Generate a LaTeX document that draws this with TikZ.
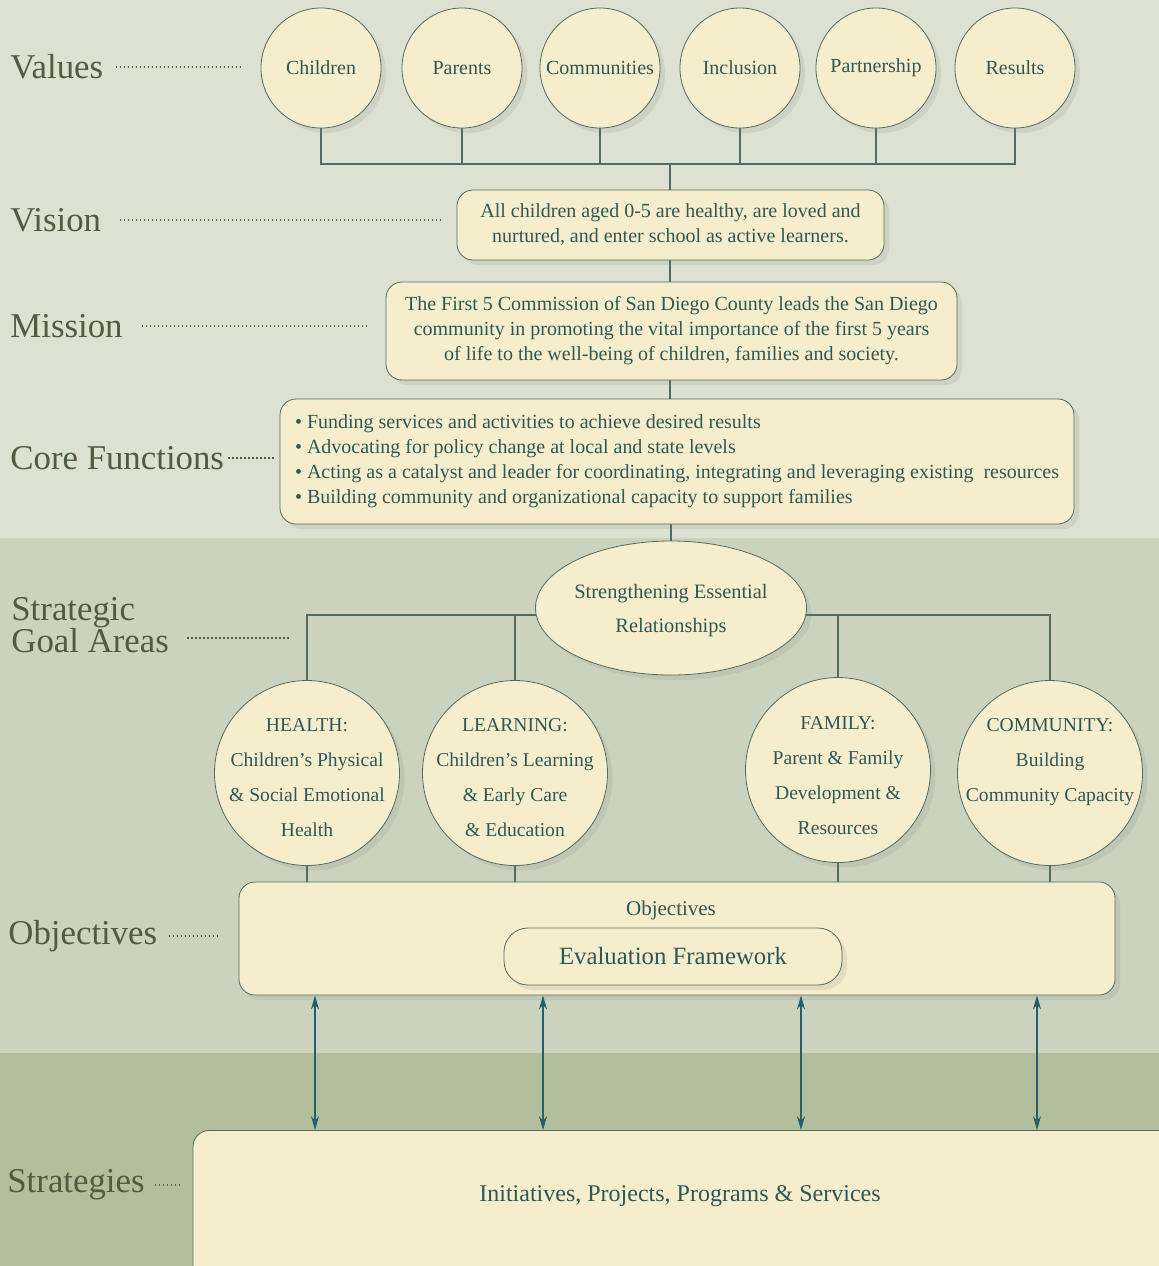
\documentclass[tikz,border=0pt]{standalone}
\usepackage{fontspec}
\setmainfont{Liberation Serif}
\usetikzlibrary{positioning,shapes.geometric,shadows,arrows.meta}

\definecolor{bgtop}{HTML}{DCE1D2}
\definecolor{bgmid}{HTML}{CBD3BE}
\definecolor{bgbot}{HTML}{B3BF9C}
\definecolor{cream}{HTML}{F6EDCD}
\definecolor{rim}{HTML}{4F6B66}
\definecolor{ink}{HTML}{2D5856}
\definecolor{olivetext}{HTML}{4E5C40}
\definecolor{arrowc}{HTML}{24606B}

\pgfdeclarelayer{bands}
\pgfdeclarelayer{wires}
\pgfsetlayers{bands,wires,main}

\tikzset{
  soft/.style={drop shadow={opacity=0.15,shadow xshift=2.5pt,shadow yshift=-2.5pt}},
  value/.style={circle,draw=rim,fill=cream,soft,minimum size=60pt,inner sep=1pt,
    font=\fontsize{10}{12}\selectfont},
  box/.style={rounded corners=8pt,draw=rim,fill=cream,soft,align=center,
    font=\fontsize{10}{12.5}\selectfont},
  goal/.style={circle,draw=rim,fill=cream,soft,minimum size=92.5pt,inner sep=0pt},
  goaltext/.style={align=center,text=ink,font=\fontsize{9.8}{17.5}\selectfont},
  heading/.style={anchor=west,inner sep=0pt,text=olivetext,font=\fontsize{17.4}{20}\selectfont},
  leader/.style={draw=olivetext,line width=0.7pt,dash pattern=on 0.7pt off 1.3pt},
  wire/.style={draw=rim,line width=0.6pt},
  twoway/.style={draw=arrowc,line width=0.6pt,
    {Stealth[length=7pt,width=4pt]}-{Stealth[length=7pt,width=4pt]}}
}

\begin{document}
\begin{tikzpicture}[x=0.5pt,y=-0.5pt,every node/.style={text=ink}]
  \useasboundingbox (0,0) rectangle (1159,1266);
  \clip (0,0) rectangle (1159,1266);

  \begin{pgfonlayer}{bands}
    \fill[bgtop] (0,0) rectangle (1159,538);
    \fill[bgmid] (0,538) rectangle (1159,1053);
    \fill[bgbot] (0,1053) rectangle (1159,1266);
  \end{pgfonlayer}

  % values
  \node[value] (children)    at (321,68)  {Children};
  \node[value] (parents)     at (462,68)  {Parents};
  \node[value] (communities) at (600,68)  {Communities};
  \node[value] (inclusion)   at (740,68)  {Inclusion};
  \node[value] (partnership) at (876,68)  {Partnership};
  \node[value] (results)     at (1015,68) {Results};

  \node[box,minimum width=213.5pt,minimum height=35pt] (vision) at (670.5,225)
    {All children aged 0-5 are healthy, are loved and\\
     nurtured, and enter school as active learners.};
  \node[box,minimum width=285.5pt,minimum height=49pt] (mission) at (671.5,331)
    {The First 5 Commission of San Diego County leads the San Diego\\
     community in promoting the vital importance of the first 5 years\\
     of life to the well-being of children, families and society.};
  \node[box,align=left,minimum width=397pt,minimum height=62.5pt] (core) at (677,461.5)
    {\textbullet\ Funding services and activities to achieve desired results\\
     \textbullet\ Advocating for policy change at local and state levels\\
     \textbullet\ Acting as a catalyst and leader for coordinating, integrating and leveraging existing\ \ resources\\
     \textbullet\ Building community and organizational capacity to support families};

  % goal areas
  \node[ellipse,draw=rim,fill=cream,soft,minimum width=135.5pt,minimum height=67pt,
    label={[goaltext,yshift=-1.5pt,font=\fontsize{10.2}{17}\selectfont]center:{Strengthening Essential\\Relationships}}]
    (rel) at (671,608) {};
  \node[goal,label={[goaltext,yshift=-2.25pt]center:{HEALTH:\\Children's Physical\\\& Social Emotional\\Health}}]
    (health) at (307,773) {};
  \node[goal,label={[goaltext,yshift=-2.25pt]center:{LEARNING:\\Children's Learning\\\& Early Care\\\& Education}}]
    (learning) at (515,773) {};
  \node[goal,label={[goaltext,yshift=-3pt]center:{FAMILY:\\Parent \& Family\\Development \&\\Resources}}]
    (family) at (838,770) {};
  \node[goal,label={[goaltext,yshift=5.5pt]center:{COMMUNITY:\\Building\\Community Capacity}}]
    (community) at (1050,773) {};

  \node[box,minimum width=438pt,minimum height=56.5pt] (obj) at (677,938.5) {};
  \node[font=\fontsize{10.5}{12}\selectfont] (objtitle) at (671,910) {Objectives};
  \node[box,rounded corners=12pt,minimum width=169pt,minimum height=28.5pt,
    font=\fontsize{12.4}{14}\selectfont] (evalfw) at (673,956.5) {Evaluation Framework};

  \node[box,minimum width=491pt,minimum height=79.5pt] (strat) at (684,1210) {};
  \node[font=\fontsize{12}{14}\selectfont] (strattxt) at (680,1196)
    {Initiatives, Projects, Programs \& Services};

  % row headings
  \node[heading] (lvalues)  at (10,67)   {Values};
  \node[heading] (lvision)  at (10,220)  {Vision};
  \node[heading] (lmission) at (10,326)  {Mission};
  \node[heading] (lcore)    at (10,458)  {Core Functions};
  \node[heading,align=left,font=\fontsize{17.4}{16}\selectfont] (lgoal) at (11,625) {Strategic\\Goal Areas};
  \node[heading] (lobj)     at (8,936)   {Objectives};
  \node[heading] (lstrat)   at (7,1185)  {Strategies};
  \coordinate (goalend) at (290,638);

  \draw[leader,shorten <=6pt,shorten >=10.5pt] (lvalues.east) -- (lvalues.east -| children.west);
  \draw[leader,shorten <=9pt,shorten >=8.5pt] (lvision.east) -- (lvision.east -| vision.west);
  \draw[leader,shorten <=9.5pt,shorten >=8.5pt] (lmission.east) -- (lmission.east -| mission.west);
  \draw[leader,shorten <=2pt,shorten >=2pt] (lcore.east) -- (lcore.east -| core.west);
  \draw[leader,shorten <=9pt] (lgoal.east |- goalend) -- (goalend);
  \draw[leader,shorten <=5.5pt,shorten >=10.5pt] (lobj.east) -- (lobj.east -| obj.west);
  \draw[leader,shorten <=5pt,shorten >=6pt] (lstrat.east) -- (lstrat.east -| strat.west);

  \begin{pgfonlayer}{wires}
    \coordinate (vjoin) at (670,164);
    \foreach \v in {children,parents,communities,inclusion,partnership,results}
      \draw[wire] (\v.south) |- (vjoin);
    \draw[wire] (vjoin) -- (vjoin |- vision.north);
    \draw[wire] (vjoin |- vision.south) -- (vjoin |- mission.north);
    \draw[wire] (vjoin |- mission.south) -- (vjoin |- core.north);
    \draw[wire] (core.south -| rel.north) -- (rel.north);
    \coordinate (gjoin) at (671,615);
    \foreach \g in {health,learning,family,community} {
      \draw[wire] (\g.north) |- (gjoin);
      \draw[wire] (\g.south) -- (\g.south |- obj.north);
    }
  \end{pgfonlayer}

  \foreach \x in {315,543,801,1037}
    \draw[twoway] (obj.south -| \x,0) -- (strat.north -| \x,0);
\end{tikzpicture}
\end{document}
